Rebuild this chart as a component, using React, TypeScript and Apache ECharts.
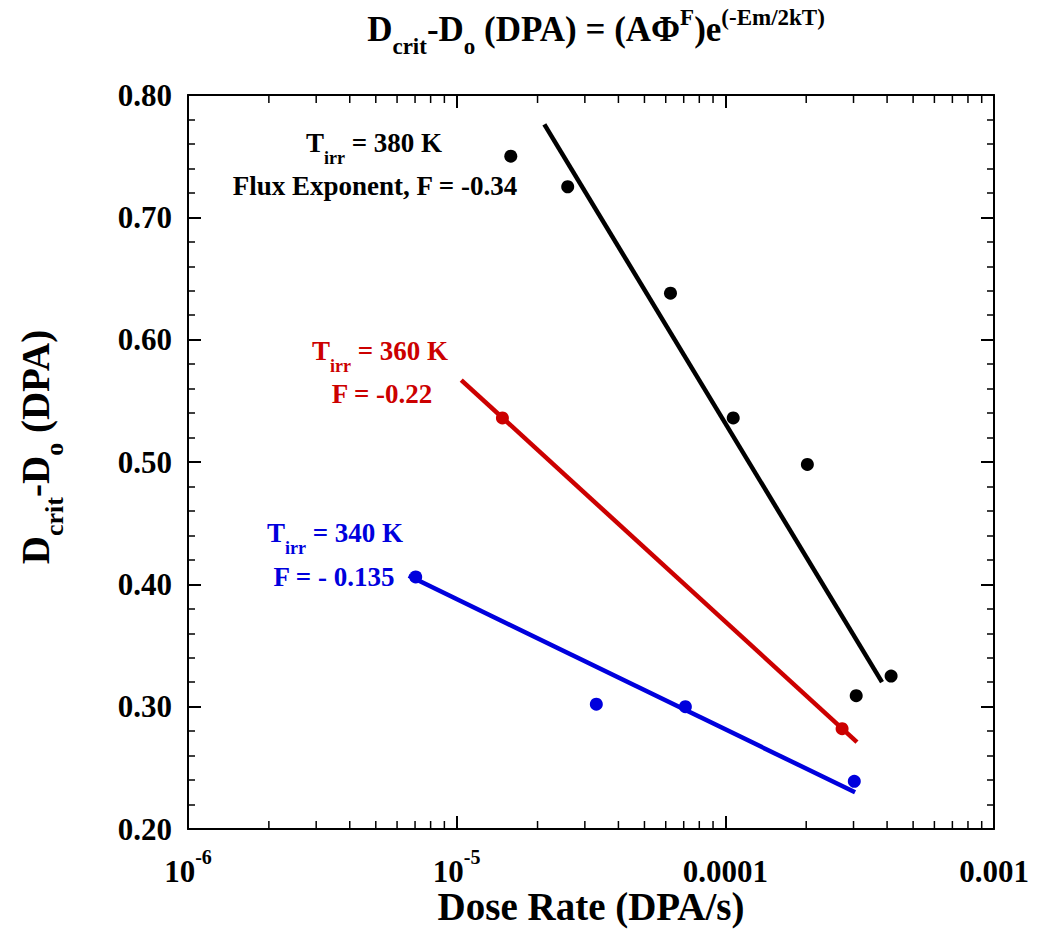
import React, { useEffect, useRef } from 'react';
import * as echarts from 'echarts';

const X_MIN = 1e-6;
const X_MAX = 1e-3;
const Y_MIN = 0.2;
const Y_MAX = 0.8;
const Y_STEP = 0.1;

// T = 380 K (black)
const black380Points: number[][] = [
  [1.59e-5, 0.750],
  [2.59e-5, 0.725],
  [6.25e-5, 0.638],
  [1.07e-4, 0.536],
  [2.02e-4, 0.498],
  [3.07e-4, 0.309],
  [4.14e-4, 0.325],
];
const black380Fit: number[][] = [
  [2.12e-5, 0.776],
  [3.83e-4, 0.320],
];

// T = 360 K (red)
const red360Points: number[][] = [
  [1.48e-5, 0.536],
  [2.72e-4, 0.282],
];
const red360Fit: number[][] = [
  [1.04e-5, 0.567],
  [3.09e-4, 0.271],
];

// T = 340 K (blue)
const blue340Points: number[][] = [
  [7.04e-6, 0.406],
  [3.31e-5, 0.302],
  [7.1e-5, 0.300],
  [3.02e-4, 0.239],
];
const blue340Fit: number[][] = [
  [6.63e-6, 0.407],
  [3.04e-4, 0.230],
];

const xMinorTicks: number[] = [
  2e-6, 3e-6, 4e-6, 5e-6, 6e-6, 7e-6, 8e-6, 9e-6,
  2e-5, 3e-5, 4e-5, 5e-5, 6e-5, 7e-5, 8e-5, 9e-5,
  2e-4, 3e-4, 4e-4, 5e-4, 6e-4, 7e-4, 8e-4, 9e-4,
];

const xTickLabels: Record<string, string> = {
  '-6': '{m|10}{sp|-6}',
  '-5': '{m|10}{sp|-5}',
  '-4': '{m|0.0001}',
  '-3': '{m|0.001}',
};

const BLACK = '#000000';
const RED = '#cc0000';
const BLUE = '#0000dd';
const FF = '"Liberation Serif", "Times New Roman", serif';

const f = (size: number) => `bold ${size}px ${FF}`;

function tLine(temp: string, color: string, x: number, top: number) {
  return {
    type: 'text',
    x,
    y: top,
    silent: true,
    style: {
      text: `{m|T}{sb|irr}{m| = ${temp}}`,
      align: 'center',
      verticalAlign: 'top',
      fill: color,
      font: f(27),
      rich: {
        m: { font: f(27), fill: color, height: 30, lineHeight: 30, verticalAlign: 'top' },
        sb: { font: f(18), fill: color, height: 60, lineHeight: 60, verticalAlign: 'top' },
      },
    },
  };
}

function plainLine(text: string, color: string, x: number, cy: number) {
  return {
    type: 'text',
    x,
    y: cy,
    silent: true,
    style: {
      text,
      align: 'center',
      verticalAlign: 'middle',
      fill: color,
      font: f(27),
    },
  };
}

export default function App() {
  const ref = useRef<HTMLDivElement>(null);

  useEffect(() => {
    document.body.style.margin = '0';
    if (!ref.current) return;
    const chart = echarts.init(ref.current, null, { renderer: 'svg' });

    const axisLineStyle = { color: '#000', width: 2 };

    const option: any = {
      animation: false,
      backgroundColor: '#ffffff',
      grid: {
        left: 188,
        right: 53,
        top: 95,
        bottom: 101,
        containLabel: false,
        outerBoundsMode: 'none',
      },
      xAxis: [
        {
          type: 'log',
          logBase: 10,
          min: X_MIN,
          max: X_MAX,
          position: 'bottom',
          axisLine: { show: true, onZero: false, lineStyle: axisLineStyle },
          axisTick: { show: true, inside: true, length: 13, lineStyle: { color: '#000', width: 2 } },
          minorTick: { show: false },
          splitLine: { show: false },
          axisLabel: {
            show: true,
            margin: 18,
            showMinLabel: true,
            showMaxLabel: true,
            hideOverlap: false,
            formatter: (v: number) => {
              const e = Math.round(Math.log10(v));
              return xTickLabels[String(e)] ?? '';
            },
            rich: {
              m: {
                fontFamily: FF,
                fontWeight: 'bold',
                fontSize: 31,
                height: 48,
                lineHeight: 48,
                verticalAlign: 'top',
                color: '#000',
              },
              sp: {
                fontFamily: FF,
                fontWeight: 'bold',
                fontSize: 20,
                height: 20,
                lineHeight: 20,
                verticalAlign: 'top',
                color: '#000',
              },
            },
          },
        },
        {
          type: 'log',
          logBase: 10,
          min: X_MIN,
          max: X_MAX,
          position: 'top',
          axisLine: { show: true, onZero: false, lineStyle: axisLineStyle },
          axisTick: { show: true, inside: true, length: 13, lineStyle: { color: '#000', width: 2 } },
          splitLine: { show: false },
          axisLabel: { show: false },
        },
      ],
      yAxis: [
        {
          type: 'value',
          min: Y_MIN,
          max: Y_MAX,
          interval: Y_STEP,
          position: 'left',
          axisLine: { show: true, onZero: false, lineStyle: axisLineStyle },
          axisTick: { show: true, inside: true, length: 13, lineStyle: { color: '#000', width: 2 } },
          minorTick: { show: true, splitNumber: 5, length: 7, lineStyle: { color: '#000', width: 1.5 } },
          splitLine: { show: false },
          axisLabel: {
            show: true,
            margin: 16,
            formatter: (v: number) => v.toFixed(2),
            fontFamily: FF,
            fontWeight: 'bold',
            fontSize: 31,
            color: '#000',
          },
        },
        {
          type: 'value',
          min: Y_MIN,
          max: Y_MAX,
          interval: Y_STEP,
          position: 'right',
          axisLine: { show: true, onZero: false, lineStyle: axisLineStyle },
          axisTick: { show: true, inside: true, length: 13, lineStyle: { color: '#000', width: 2 } },
          minorTick: { show: true, splitNumber: 5, length: 7, lineStyle: { color: '#000', width: 1.5 } },
          splitLine: { show: false },
          axisLabel: { show: false },
        },
      ],
      series: [
        {
          name: 'xMinor',
          type: 'custom',
          xAxisIndex: 0,
          yAxisIndex: 0,
          silent: true,
          clip: false,
          data: xMinorTicks.map((v) => [v, Y_MIN]),
          encode: { x: 0, y: 1 },
          renderItem: (params: any, api: any) => {
            const v = api.value(0);
            const b = api.coord([v, Y_MIN]);
            const t = api.coord([v, Y_MAX]);
            return {
              type: 'group',
              children: [
                { type: 'line', shape: { x1: b[0], y1: b[1], x2: b[0], y2: b[1] - 8 }, style: { stroke: '#000', lineWidth: 1.5 } },
                { type: 'line', shape: { x1: t[0], y1: t[1], x2: t[0], y2: t[1] + 8 }, style: { stroke: '#000', lineWidth: 1.5 } },
              ],
            };
          },
        },
        {
          name: '380 K fit',
          type: 'line',
          data: black380Fit,
          symbol: 'none',
          lineStyle: { color: BLACK, width: 4.5, cap: 'butt' },
          z: 3,
        },
        {
          name: '360 K fit',
          type: 'line',
          data: red360Fit,
          symbol: 'none',
          lineStyle: { color: RED, width: 4.5, cap: 'butt' },
          z: 3,
        },
        {
          name: '340 K fit',
          type: 'line',
          data: blue340Fit,
          symbol: 'none',
          lineStyle: { color: BLUE, width: 4.5, cap: 'butt' },
          z: 3,
        },
        {
          name: '380 K',
          type: 'scatter',
          data: black380Points,
          symbol: 'circle',
          symbolSize: 13,
          itemStyle: { color: BLACK, opacity: 1 },
          z: 4,
        },
        {
          name: '360 K',
          type: 'scatter',
          data: red360Points,
          symbol: 'circle',
          symbolSize: 13,
          itemStyle: { color: RED, opacity: 1 },
          z: 4,
        },
        {
          name: '340 K',
          type: 'scatter',
          data: blue340Points,
          symbol: 'circle',
          symbolSize: 13,
          itemStyle: { color: BLUE, opacity: 1 },
          z: 4,
        },
      ],
      graphic: [
        // Title
        {
          type: 'text',
          x: 596,
          y: 7,
          silent: true,
          style: {
            text: '{m|D}{sb|crit}{m|-D}{sb|o}{m| (DPA) = (AΦ}{sp|F}{m|)e}{sp|(-Em/2kT)}',
            align: 'center',
            verticalAlign: 'top',
            fill: '#000',
            font: f(35),
            rich: {
              m: { font: f(35), fill: '#000', height: 44, lineHeight: 44, verticalAlign: 'top' },
              sb: { font: f(23), fill: '#000', height: 78, lineHeight: 78, verticalAlign: 'top' },
              sp: { font: f(23), fill: '#000', height: 20, lineHeight: 20, verticalAlign: 'top' },
            },
          },
        },
        // Y axis title (rotated)
        {
          type: 'text',
          x: 13,
          y: 447,
          rotation: Math.PI / 2,
          silent: true,
          style: {
            text: '{m|D}{sb|crit}{m|-D}{sb|o}{m| (DPA)}',
            align: 'center',
            verticalAlign: 'top',
            fill: '#000',
            font: f(39),
            rich: {
              m: { font: f(39), fill: '#000', height: 44, lineHeight: 44, verticalAlign: 'top' },
              sb: { font: f(26), fill: '#000', height: 82, lineHeight: 82, verticalAlign: 'top' },
            },
          },
        },
        // X axis title
        {
          type: 'text',
          x: 591,
          y: 906,
          silent: true,
          style: {
            text: 'Dose Rate (DPA/s)',
            align: 'center',
            verticalAlign: 'middle',
            fill: '#000',
            font: f(39),
          },
        },
        // Annotations
        tLine('380 K', BLACK, 374, 128),
        plainLine('Flux Exponent, F = -0.34', BLACK, 375, 186),
        tLine('360 K', RED, 380, 336),
        plainLine('F = -0.22', RED, 382, 394),
        tLine('340 K', BLUE, 335, 518),
        plainLine('F = - 0.135', BLUE, 334, 577),
      ],
    };

    chart.setOption(option);
    return () => {
      chart.dispose();
    };
  }, []);

  return <div ref={ref} style={{ width: 1047, height: 930 }} />;
}
